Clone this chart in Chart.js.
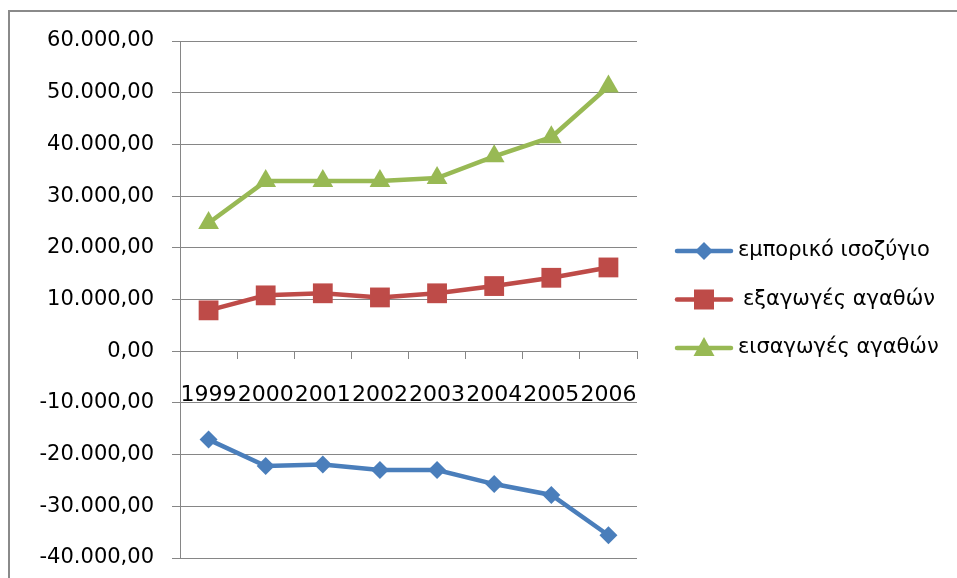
<!DOCTYPE html>
<html>
<head>
<meta charset="utf-8">
<script src="https://cdn.jsdelivr.net/npm/chart.js@4.4.1/dist/chart.umd.min.js"></script>
<style>
  html, body { margin: 0; padding: 0; background: #fff; }
  #wrap { width: 957px; height: 578px; position: relative; }
</style>
</head>
<body>
<div id="wrap"><canvas id="c" width="957" height="578"></canvas></div>
<script>
// Years on the category axis
const years = ['1999', '2000', '2001', '2002', '2003', '2004', '2005', '2006'];

// Series values
const tradeBalance = [-17100, -22200, -21900, -23000, -23000, -25700, -27800, -35600];
const exportsGoods = [7900, 10800, 11200, 10400, 11200, 12600, 14200, 16200];
const importsGoods = [24800, 32900, 32900, 32900, 33500, 37700, 41400, 51200];

// Series names
const seriesNames = ['εμπορικό ισοζύγιο', 'εξαγωγές αγαθών', 'εισαγωγές αγαθών'];

// Value axis range
const yMin = -40000;
const yMax = 60000;
const yStep = 10000;

const FONT = '"DejaVu Sans", sans-serif';
const GRID = '#868686';
const COLORS = ['#4a7ebb', '#be4b48', '#98b954'];
const STYLES = ['diamond', 'square', 'triangle'];

// Greek number format: thousands with '.', decimals with ','
function fmtNumber(v) {
  const neg = v < 0;
  const s = Math.abs(Math.round(v)).toString().replace(/\B(?=(\d{3})+(?!\d))/g, '.');
  return (neg ? '-' : '') + s + ',00';
}

function drawMarker(ctx, style, x, y, color) {
  ctx.save();
  ctx.fillStyle = color;
  ctx.beginPath();
  if (style === 'diamond') {
    const r = 9;
    ctx.moveTo(x, y - r); ctx.lineTo(x + r, y); ctx.lineTo(x, y + r); ctx.lineTo(x - r, y);
  } else if (style === 'square') {
    const h = 10;
    ctx.rect(x - h, y - h, 2 * h, 2 * h);
  } else {
    const w = 10.5, up = 11, dn = 8;
    ctx.moveTo(x, y - up); ctx.lineTo(x + w, y + dn); ctx.lineTo(x - w, y + dn);
  }
  ctx.closePath();
  ctx.fill();
  ctx.restore();
}

// Frame around the chart
const framePlugin = {
  id: 'frame',
  beforeDraw(chart) {
    const ctx = chart.ctx;
    ctx.save();
    ctx.fillStyle = '#fff';
    ctx.fillRect(0, 0, chart.width, chart.height);
    ctx.strokeStyle = '#8a8a8a';
    ctx.lineWidth = 2;
    ctx.beginPath();
    ctx.moveTo(9, chart.height + 5);
    ctx.lineTo(9, 11);
    ctx.lineTo(chart.width + 5, 11);
    ctx.stroke();
    ctx.restore();
  }
};

// Line + marker legend on the right, centred on the plot
const legendPlugin = {
  id: 'sideLegend',
  afterDraw(chart) {
    const ctx = chart.ctx;
    const area = chart.chartArea;
    const mid = (area.top + area.bottom) / 2;
    const gap = 48.5;
    const n = chart.data.datasets.length;
    chart.data.datasets.forEach((ds, i) => {
      const y = mid + (i - (n - 1) / 2) * gap;
      const x0 = 677, x1 = 731;
      ctx.save();
      ctx.strokeStyle = ds.borderColor;
      ctx.lineWidth = 4.5;
      ctx.lineCap = 'round';
      ctx.beginPath();
      ctx.moveTo(x0, y); ctx.lineTo(x1, y);
      ctx.stroke();
      drawMarker(ctx, STYLES[i], (x0 + x1) / 2, y, ds.borderColor);
      ctx.fillStyle = '#000';
      ctx.font = '21px ' + FONT;
      ctx.textAlign = 'left';
      ctx.textBaseline = 'middle';
      ctx.fillText(ds.label, i === 1 ? 743 : 738, y);
      ctx.restore();
    });
  }
};

function makeDataset(label, data, i) {
  const ps = { diamond: 'rectRot', square: 'rect', triangle: 'triangle' }[STYLES[i]];
  const rad = { diamond: 9, square: 14, triangle: 12 }[STYLES[i]];
  return {
    label: label,
    data: data,
    borderColor: COLORS[i],
    backgroundColor: COLORS[i],
    borderWidth: 4.5,
    tension: 0,
    pointStyle: ps,
    pointRadius: rad,
    pointBorderWidth: 0,
    pointBackgroundColor: COLORS[i],
    pointBorderColor: COLORS[i]
  };
}

new Chart(document.getElementById('c'), {
  type: 'line',
  data: {
    labels: years,
    datasets: [
      makeDataset(seriesNames[0], tradeBalance, 0),
      makeDataset(seriesNames[1], exportsGoods, 1),
      makeDataset(seriesNames[2], importsGoods, 2)
    ]
  },
  options: {
    responsive: false,
    devicePixelRatio: 1,
    animation: false,
    layout: { padding: { left: 0, right: 320, top: 41, bottom: 20 } },
    plugins: { legend: { display: false }, tooltip: { enabled: false } },
    scales: {
      x: {
        type: 'category',
        position: { y: 0 },
        offset: true,
        grid: { offset: true, drawOnChartArea: false, drawTicks: true, tickLength: 7, color: GRID, lineWidth: 1 },
        border: { display: true, color: GRID, width: 1 },
        ticks: { font: { family: FONT, size: 22 }, color: '#000', padding: 24, maxRotation: 0, minRotation: 0, autoSkip: false },
        afterFit(scale) {
          scale.height = 0;
          scale.paddingTop = 0; scale.paddingBottom = 0;
        }
      },
      y: {
        min: yMin,
        max: yMax,
        grid: { color: GRID, lineWidth: 1, tickLength: 8, drawTicks: true },
        border: { display: true, color: GRID, width: 1 },
        ticks: { stepSize: yStep, callback: v => fmtNumber(v), font: { family: FONT, size: 21 }, color: '#000', padding: 18 },
        afterFit(scale) {
          scale.width = 180;
          scale.paddingTop = 0; scale.paddingBottom = 0;
        }
      }
    }
  },
  plugins: [framePlugin, legendPlugin]
});
</script>
</body>
</html>
